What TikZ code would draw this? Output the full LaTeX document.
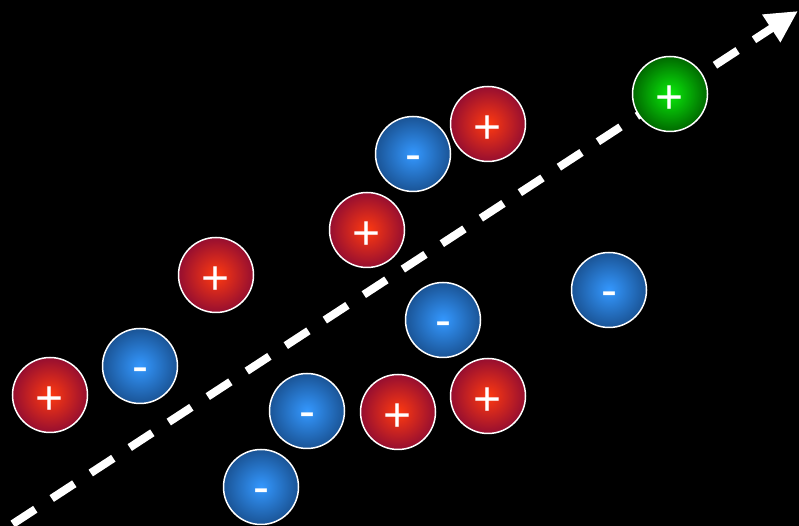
\documentclass[tikz,border=0pt]{standalone}
\usepackage{fontspec}
\setsansfont{Liberation Sans}
\usetikzlibrary{arrows.meta}

\definecolor{redin}{RGB}{255,58,16}
\definecolor{redout}{RGB}{150,14,48}
\definecolor{bluein}{RGB}{52,152,255}
\definecolor{blueout}{RGB}{26,84,150}
\definecolor{greenin}{RGB}{10,235,10}
\definecolor{greenout}{RGB}{0,105,0}

\begin{document}
\begin{tikzpicture}[x=1pt, y=1pt,
    charge/.style={circle, draw=white, line width=1.5pt, minimum size=75pt, inner sep=0pt,
        text=white, font=\sffamily\fontsize{48}{48}\selectfont, text depth=0pt},
    posion/.style={charge, inner color=redin, outer color=redout, text height=40pt},
    negion/.style={charge, inner color=bluein, outer color=blueout, text height=33pt},
    leadion/.style={charge, inner color=greenin, outer color=greenout, text height=40pt}]
    \useasboundingbox (0,0) rectangle (799,526);
    \fill[black] (0,0) rectangle (799,526);

    \coordinate (start) at (12.7, 2);
    \coordinate (tip) at (798, 515);
    \draw[white, line width=8pt, dash pattern=on 27pt off 19.6pt,
        -{Triangle[length=32pt, width=31pt]}] (start) -- (tip);

    \node[posion] (p1) at (50, 131) {+};
    \node[posion] (p2) at (216, 251) {+};
    \node[posion] (p3) at (367, 296) {+};
    \node[posion] (p4) at (488, 402) {+};
    \node[posion] (p5) at (398, 114) {+};
    \node[posion] (p6) at (488, 130) {+};

    \node[negion] (n1) at (140, 160) {-};
    \node[negion] (n2) at (413, 372) {-};
    \node[negion] (n3) at (443, 206) {-};
    \node[negion] (n4) at (307, 115) {-};
    \node[negion] (n5) at (261, 39) {-};
    \node[negion] (n6) at (609, 236) {-};

    \node[leadion] (g1) at (670, 432) {+};
\end{tikzpicture}
\end{document}
